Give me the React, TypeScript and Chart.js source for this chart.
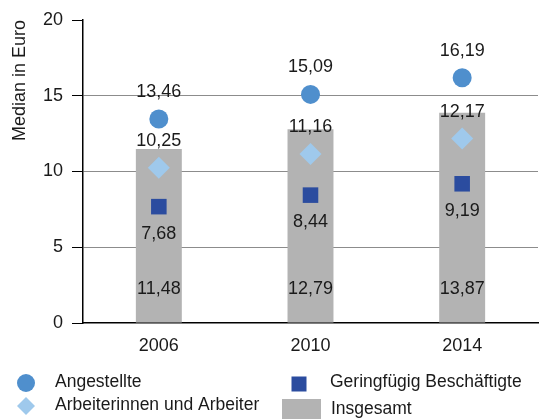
import { useEffect, useRef } from 'react';
import { Chart, registerables } from 'chart.js';

Chart.register(...registerables);

const categories = ['2006', '2010', '2014'];
const angestellte = [13.46, 15.09, 16.19];
const arbeiter = [10.25, 11.16, 12.17];
const geringfuegig = [7.68, 8.44, 9.19];
const insgesamt = [11.48, 12.79, 13.87];
const yMin = 0;
const yMax = 20;
const yStep = 5;
const seriesLabels = ['Angestellte', 'Arbeiterinnen und Arbeiter', 'Geringfügig Beschäftigte', 'Insgesamt'];
const axisTitle = 'Median in Euro';

const FONT = '"Liberation Sans", Arial, Helvetica, sans-serif';
const TEXT = '#1a1a1a';
const C_ANG = '#4f8fcd';
const C_ARB = '#9fc9ec';
const C_GER = '#2b4c9f';
const C_INS = '#b3b3b3';

const fmt = (v: number) => v.toFixed(2).replace('.', ',');

const labelPlugin = {
  id: 'valueLabels',
  afterDatasetsDraw(chart: any) {
    const ctx = chart.ctx;
    ctx.save();
    ctx.font = `18px ${FONT}`;
    ctx.fillStyle = TEXT;
    ctx.textAlign = 'center';
    ctx.textBaseline = 'middle';
    const base = chart.scales.y.getPixelForValue(0);
    chart.data.datasets.forEach((ds: any, i: number) => {
      const meta = chart.getDatasetMeta(i);
      meta.data.forEach((el: any, j: number) => {
        const v = ds.data[j];
        let y: number;
        if (ds.labelPos === 'above') y = el.y - 27;
        else if (ds.labelPos === 'below') y = el.y + 27;
        else y = base - 34;
        ctx.fillText(fmt(v), el.x, y);
      });
    });
    ctx.restore();
  },
};

const legendPlugin = {
  id: 'customLegend',
  afterDraw(chart: any) {
    const ctx = chart.ctx;
    const ds = chart.data.datasets;
    ctx.save();
    ctx.font = `17.5px ${FONT}`;
    ctx.textBaseline = 'middle';
    ctx.textAlign = 'left';
    // Angestellte
    ctx.fillStyle = ds[0].pointBackgroundColor;
    ctx.beginPath();
    ctx.arc(26, 383, 9, 0, Math.PI * 2);
    ctx.fill();
    ctx.fillStyle = TEXT;
    ctx.fillText(ds[0].label, 55, 382);
    // Arbeiter
    ctx.fillStyle = ds[1].pointBackgroundColor;
    ctx.beginPath();
    ctx.moveTo(26 - 9, 406);
    ctx.lineTo(26, 406 - 9);
    ctx.lineTo(26 + 9, 406);
    ctx.lineTo(26, 406 + 9);
    ctx.closePath();
    ctx.fill();
    ctx.fillStyle = TEXT;
    ctx.fillText(ds[1].label, 55, 405.5);
    // Geringfügig
    ctx.fillStyle = ds[2].pointBackgroundColor;
    ctx.fillRect(291.5, 376.5, 15, 15);
    ctx.fillStyle = TEXT;
    ctx.fillText(ds[2].label, 330, 382);
    // Insgesamt
    ctx.fillStyle = ds[3].backgroundColor;
    ctx.fillRect(282, 399, 39, 20);
    ctx.fillStyle = TEXT;
    ctx.fillText(ds[3].label, 331, 409);
    ctx.restore();
  },
};

export default function App() {
  const ref = useRef<HTMLCanvasElement | null>(null);

  useEffect(() => {
    if (!ref.current) return;
    const chart = new Chart(ref.current, {
      type: 'bar',
      data: {
        labels: categories,
        datasets: [
          {
            type: 'line',
            label: seriesLabels[0],
            data: angestellte,
            showLine: false,
            pointStyle: 'circle',
            pointRadius: 9.5,
            pointBackgroundColor: C_ANG,
            pointBorderWidth: 0,
            borderColor: C_ANG,
            order: 1,
            labelPos: 'above',
          } as any,
          {
            type: 'line',
            label: seriesLabels[1],
            data: arbeiter,
            showLine: false,
            pointStyle: 'rectRot',
            pointRadius: 11,
            pointBackgroundColor: C_ARB,
            pointBorderWidth: 0,
            borderColor: C_ARB,
            order: 1,
            labelPos: 'above',
          } as any,
          {
            type: 'line',
            label: seriesLabels[2],
            data: geringfuegig,
            showLine: false,
            pointStyle: 'rect',
            pointRadius: 11,
            pointBackgroundColor: C_GER,
            pointBorderWidth: 0,
            borderColor: C_GER,
            order: 1,
            labelPos: 'below',
          } as any,
          {
            type: 'bar',
            label: seriesLabels[3],
            data: insgesamt,
            backgroundColor: C_INS,
            borderWidth: 0,
            barPercentage: 0.303,
            categoryPercentage: 1,
            order: 2,
            labelPos: 'base',
          } as any,
        ],
      },
      options: {
        responsive: false,
        animation: false,
        events: [],
        layout: { padding: { left: 0, right: 14, top: 20, bottom: 56 } },
        plugins: {
          legend: { display: false },
          tooltip: { enabled: false },
        },
        scales: {
          x: {
            grid: { display: false },
            border: { color: '#000', width: 1.5 },
            ticks: { color: TEXT, font: { family: FONT, size: 18 }, padding: 4 },
            afterFit: (s: any) => { s.height = 40; },
          },
          y: {
            min: yMin,
            max: yMax,
            ticks: { stepSize: yStep, color: TEXT, font: { family: FONT, size: 18 }, padding: 9 },
            grid: {
              color: (c: any) => (c.tick && (c.tick.value === yMin || c.tick.value === yMax) ? 'rgba(0,0,0,0)' : '#8c8c8c'),
              tickColor: '#000',
              tickLength: 11,
              lineWidth: 1,
            },
            border: { color: '#000', width: 1.5 },
            title: {
              display: true,
              text: axisTitle,
              align: 'end',
              color: TEXT,
              font: { family: FONT, size: 18 },
              padding: { top: 9, bottom: 0 },
            },
            afterFit: (s: any) => { s.width = 83; },
          },
        },
      },
      plugins: [labelPlugin, legendPlugin],
    });
    return () => chart.destroy();
  }, []);

  return (
    <div style={{ position: 'absolute', left: 0, top: 0, width: 552, height: 419, background: '#fff' }}>
      <canvas ref={ref} width={552} height={419} />
    </div>
  );
}
